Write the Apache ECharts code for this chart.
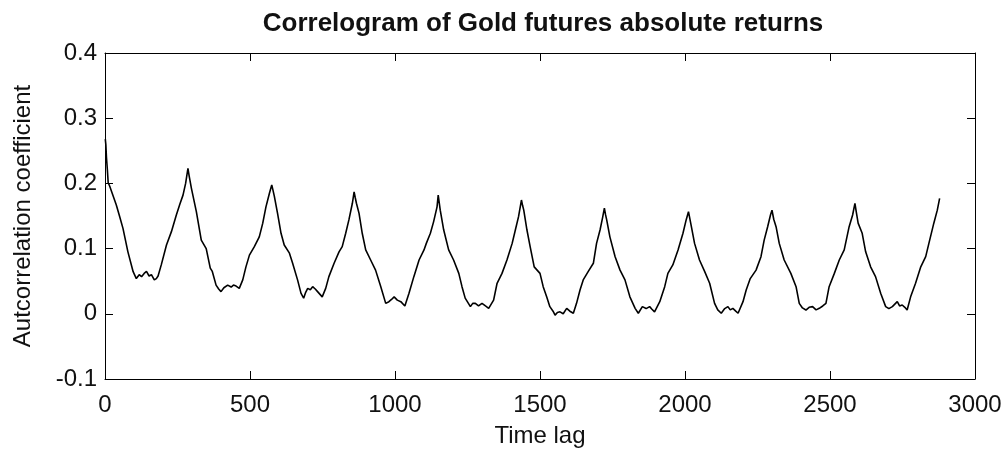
<!DOCTYPE html>
<html>
<head>
<meta charset="utf-8">
<script src="https://cdn.jsdelivr.net/npm/echarts@6/dist/echarts.min.js"></script>
<style>
html,body{margin:0;padding:0;background:#fff;}
#chart{width:1006px;height:453px;}
</style>
</head>
<body>
<div id="chart"></div>
<script>
const titleText = 'Correlogram of Gold futures absolute returns';
const xName = 'Time lag';
const yName = 'Autcorrelation coefficient';
const xTicks = [0, 500, 1000, 1500, 2000, 2500, 3000];
const yTicks = [-0.1, 0, 0.1, 0.2, 0.3, 0.4];

const lags = [1,3,5,8,11,16,39,50,62,79,97,108,118,126,135,143,152,160,170,177,183,194,212,229,246,258,269,278,286,290,298,315,332,349,363,370,383,392,400,410,423,435,443,452,463,475,486,498,515,532,544,555,567,575,579,584,595,607,618,636,647,664,676,685,692,699,708,716,725,733,738,749,761,772,790,807,818,830,841,853,859,863,867,876,887,899,916,933,951,968,979,988,997,1008,1020,1034,1048,1065,1083,1100,1108,1122,1133,1145,1149,1152,1156,1168,1185,1202,1220,1231,1242,1260,1268,1277,1288,1300,1312,1323,1340,1352,1369,1386,1404,1415,1426,1436,1440,1444,1455,1466,1480,1500,1511,1523,1534,1545,1552,1560,1569,1580,1592,1603,1615,1626,1638,1649,1666,1684,1695,1707,1716,1722,1726,1730,1741,1759,1776,1793,1810,1828,1839,1853,1866,1878,1886,1895,1913,1930,1941,1958,1976,1993,2004,2012,2021,2033,2050,2068,2085,2102,2113,2125,2137,2148,2156,2165,2175,2183,2200,2211,2225,2245,2262,2273,2285,2295,2300,2306,2314,2325,2342,2365,2383,2394,2405,2417,2428,2440,2452,2463,2475,2486,2497,2515,2532,2549,2566,2578,2586,2590,2597,2611,2623,2640,2657,2675,2692,2703,2715,2732,2740,2749,2758,2766,2778,2795,2813,2830,2841,2858,2870,2878];
const acf = [0.268,0.259,0.240,0.222,0.201,0.196,0.167,0.150,0.131,0.095,0.0646,0.054,0.060,0.057,0.062,0.065,0.058,0.060,0.052,0.054,0.058,0.075,0.1055,0.126,0.1515,0.168,0.182,0.200,0.223,0.212,0.1925,0.1566,0.113,0.100,0.070,0.065,0.044,0.038,0.034,0.040,0.044,0.041,0.044,0.0426,0.039,0.052,0.072,0.090,0.103,0.118,0.139,0.164,0.185,0.1975,0.190,0.180,0.154,0.1235,0.1055,0.093,0.0775,0.052,0.0314,0.024,0.033,0.039,0.037,0.0416,0.038,0.034,0.031,0.026,0.039,0.057,0.0775,0.095,0.103,0.1235,0.144,0.1695,0.187,0.178,0.1695,0.154,0.1235,0.098,0.0825,0.067,0.0416,0.016,0.0186,0.022,0.026,0.021,0.0186,0.012,0.031,0.057,0.0825,0.098,0.108,0.1235,0.141,0.164,0.182,0.172,0.159,0.1285,0.098,0.0825,0.062,0.0416,0.024,0.011,0.016,0.016,0.012,0.016,0.012,0.0084,0.021,0.0468,0.062,0.0825,0.108,0.1285,0.149,0.1745,0.166,0.159,0.1285,0.103,0.072,0.062,0.0416,0.026,0.011,0.004,-0.002,0.002,0.003,0.000,0.0084,0.004,0.0008,0.016,0.0365,0.052,0.0646,0.0775,0.108,0.1285,0.148,0.162,0.152,0.144,0.118,0.0876,0.067,0.052,0.026,0.0084,0.0008,0.011,0.008,0.011,0.007,0.003,0.0186,0.0416,0.062,0.075,0.098,0.1235,0.144,0.1566,0.136,0.108,0.0825,0.0646,0.0468,0.016,0.006,0.0008,0.008,0.011,0.006,0.0084,0.004,0.0008,0.0186,0.0365,0.054,0.067,0.0876,0.113,0.1336,0.152,0.159,0.145,0.1336,0.108,0.0825,0.062,0.0416,0.016,0.009,0.0058,0.010,0.011,0.006,0.0084,0.012,0.016,0.0416,0.062,0.0825,0.098,0.1336,0.1515,0.1695,0.158,0.139,0.1235,0.095,0.072,0.057,0.031,0.011,0.008,0.011,0.0186,0.012,0.0135,0.010,0.0058,0.026,0.0468,0.072,0.0876,0.108,0.139,0.159,0.177];

const seriesData = lags.map((l, i) => [l, acf[i]]);
const FONT = 'Liberation Sans, Arial, sans-serif';
const xMin = xTicks[0], xMax = xTicks[xTicks.length - 1], xInt = xTicks[1] - xTicks[0];
const yMin = yTicks[0], yMax = yTicks[yTicks.length - 1];
const yInt = 0.1;

const axisLine = {show: true, onZero: false, lineStyle: {color: '#000', width: 1}};
const axisTick = {show: true, inside: true, length: 8, lineStyle: {color: '#000', width: 1}};

const chart = echarts.init(document.getElementById('chart'), null, {renderer: 'canvas'});
chart.setOption({
  animation: false,
  backgroundColor: '#fff',
  title: {
    text: titleText, left: 538, top: 6, textAlign: 'center',
    textStyle: {fontFamily: FONT, fontSize: 26, fontWeight: 'bold', color: '#111'}
  },
  grid: {left: 105, right: 31, top: 53, bottom: 74, containLabel: false},
  xAxis: [{
    type: 'value', min: xMin, max: xMax, interval: xInt,
    name: xName, nameLocation: 'middle', nameGap: 45,
    nameTextStyle: {fontFamily: FONT, fontSize: 24, color: '#111'},
    axisLine: axisLine, axisTick: axisTick,
    axisLabel: {fontFamily: FONT, fontSize: 24, color: '#111', margin: 14,
      formatter: v => String(Math.round(v))},
    splitLine: {show: false}
  }, {
    type: 'value', position: 'top', min: xMin, max: xMax, interval: xInt,
    axisLine: axisLine, axisTick: axisTick, axisLabel: {show: false}, splitLine: {show: false}
  }],
  yAxis: [{
    type: 'value', min: yMin, max: yMax, interval: yInt,
    name: yName, nameLocation: 'middle', nameGap: 70,
    nameTextStyle: {fontFamily: FONT, fontSize: 24, color: '#111'},
    axisLine: axisLine, axisTick: axisTick,
    axisLabel: {fontFamily: FONT, fontSize: 24, color: '#111', margin: 8,
      formatter: v => (Math.round(v * 10) / 10).toString()},
    splitLine: {show: false}
  }, {
    type: 'value', position: 'right', min: yMin, max: yMax, interval: yInt,
    axisLine: axisLine, axisTick: axisTick, axisLabel: {show: false}, splitLine: {show: false}
  }],
  series: [{
    type: 'line', data: seriesData, showSymbol: false, symbol: 'none',
    xAxisIndex: 0, yAxisIndex: 0,
    lineStyle: {color: '#000', width: 1.6}
  }]
});
</script>
</body>
</html>
